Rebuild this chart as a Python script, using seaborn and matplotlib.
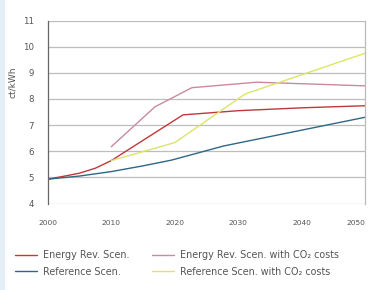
import matplotlib
matplotlib.use("Agg")
import matplotlib.pyplot as plt
import seaborn as sns
import pandas as pd
from matplotlib.patches import Rectangle

# ---- data ----
er_years = [2000, 2002.5, 2005, 2007.5, 2010, 2021.3, 2030, 2040, 2050]
er_vals = [4.93, 5.04, 5.16, 5.35, 5.64, 7.39, 7.55, 7.66, 7.74]
erco2_years = [2010, 2016.9, 2022.7, 2032.9, 2050]
erco2_vals = [6.17, 7.70, 8.43, 8.64, 8.50]
ref_years = [2000, 2005, 2010, 2015, 2019.5, 2027.7, 2050]
ref_vals = [4.93, 5.05, 5.22, 5.44, 5.66, 6.20, 7.30]
refco2_years = [2010, 2020, 2031.1, 2050]
refco2_vals = [5.64, 6.33, 8.19, 9.75]

series_names = ["Energy Rev. Scen.", "Reference Scen.",
                "Energy Rev. Scen. with CO\u2082 costs", "Reference Scen. with CO\u2082 costs"]
colors = ["#c0383a", "#2f6786", "#c98a9e", "#dde46a"]
x_ticks = [2000, 2010, 2020, 2030, 2040, 2050]
y_ticks = [4, 5, 6, 7, 8, 9, 10, 11]

frames = []
for name, xs, ys in zip(series_names,
                        [er_years, ref_years, erco2_years, refco2_years],
                        [er_vals, ref_vals, erco2_vals, refco2_vals]):
    frames.append(pd.DataFrame({"year": xs, "value": ys, "series": name}))
df = pd.concat(frames, ignore_index=True)

sns.set_style("white")
plt.rcParams["font.family"] = ["DejaVu Sans"]

fig = plt.figure(figsize=(3.7, 2.9), dpi=100)
fig.patch.set_facecolor("white")
fig.add_artist(Rectangle((0, 0), 5 / 370, 1, transform=fig.transFigure,
                         facecolor="#e3eef7", edgecolor="none"))
ax = fig.add_axes([47.7 / 370, 1 - 203.5 / 290, (365.3 - 47.7) / 370, (203.5 - 20.5) / 290])

sns.lineplot(data=df, x="year", y="value", hue="series", hue_order=series_names,
             palette=colors, estimator=None, sort=False, linewidth=1.0, ax=ax, legend=False)

ax.set_xlim(2000, 2050)
ax.set_ylim(4, 11)
ax.set_yticks(y_ticks)
ax.set_yticklabels([str(v) for v in y_ticks], fontsize=6.2, color="#555555")
ax.set_xticks(x_ticks)
ax.set_xticklabels([str(v) for v in x_ticks], fontsize=5.4, color="#555555")
ax.tick_params(axis="x", length=0, pad=12)
ax.tick_params(axis="y", length=4, width=0.8, color="#777777", pad=6, direction="out")
ax.grid(axis="y", color="#bdbdbd", linewidth=0.9)
ax.set_axisbelow(True)
for s in ["top", "bottom"]:
    ax.spines[s].set_visible(False)
ax.spines["left"].set_color("#666666")
ax.spines["left"].set_linewidth(0.9)
ax.spines["right"].set_color("#bbbbbb")
ax.spines["right"].set_linewidth(0.9)
ax.set_xlabel("")
ax.set_ylabel("ct/kWh", fontsize=6.5, color="#555555")
ax.yaxis.set_label_coords(-0.097, 0.664)

labels = ax.get_xticklabels()
labels[-1].set_horizontalalignment("right")

handles = [plt.Line2D([], [], color=c, lw=1.0) for c in colors]
fig.legend(handles, series_names, ncol=2, loc="upper left",
           bbox_to_anchor=(15 / 370, 1 - 250 / 290), frameon=False,
           borderpad=0, borderaxespad=0,
           fontsize=6.9, labelcolor="#555555", handlelength=2.3, handletextpad=0.6,
           columnspacing=2.4, labelspacing=0.7)

fig.savefig("out.png", dpi=100)
